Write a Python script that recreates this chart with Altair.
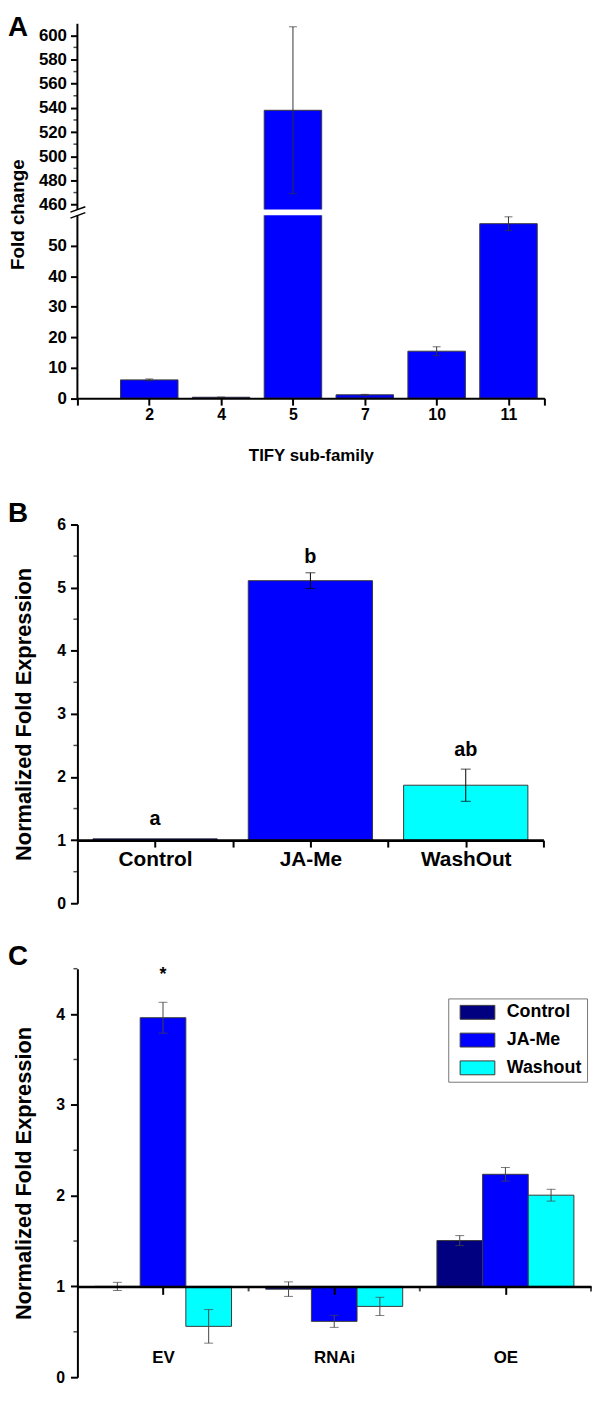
import json
import altair as alt
import pandas as pd

FONT = "Liberation Sans"
BLUE = "#0000ff"
NAVY = "#000080"
CYAN = "#00ffff"
EDGE = "#3a3a3a"
ERRC = "#333333"

# ---------------- Panel A data ----------------
A_FAMILY = ["2", "4", "5", "7", "10", "11"]
A_FOLD = [6.0, 0.3, 538.0, 1.1, 15.4, 57.2]
A_ERR = [0.3, 0.05, 69.0, 0.15, 1.45, 2.25]
A_Y_TICKS = [0, 10, 20, 30, 40, 50, 460, 480, 500, 520, 540, 560, 580, 600]
A_Y_MINOR = [470, 490, 510, 530, 550, 570, 590]
A_SEG_LO = [0, 456]      # broken axis: lower and upper segment starts
A_SEG_HI = [60, 609.5]   # broken axis: lower and upper segment ends

# ---------------- Panel B data ----------------
B_TREAT = ["Control", "JA-Me", "WashOut"]
B_EXPR = [1.02, 5.11, 1.87]
B_ERR = [0.0, 0.125, 0.255]
B_LETTER = ["a", "b", "ab"]
B_LETTER_Y = [1.34, 5.49, 2.42]
B_COLORS = [BLUE, BLUE, CYAN]
B_Y_TICKS = [0, 1, 2, 3, 4, 5, 6]
B_Y_MINOR = [0.5, 1.5, 2.5, 3.5, 4.5, 5.5]

# ---------------- Panel C data ----------------
C_LINE = ["EV", "RNAi", "OE"]
C_SERIES = ["Control", "JA-Me", "Washout"]
C_COLORS = [NAVY, BLUE, CYAN]
C_CONTROL = [1.0, 0.97, 1.505]
C_CONTROL_ERR = [0.045, 0.08, 0.055]
C_JAME = [3.96, 0.615, 2.235]
C_JAME_ERR = [0.17, 0.066, 0.075]
C_WASH = [0.56, 0.78, 2.005]
C_WASH_ERR = [0.185, 0.10, 0.065]
C_STAR = "*"
C_STAR_Y = 4.43
C_Y_TICKS = [0, 1, 2, 3, 4]
C_Y_MINOR = [0.5, 1.5, 2.5, 3.5, 4.5]
C_BOUNDS = [1, 2, 3]
C_BAR = 0.2667

# ======================= Panel A =======================
W_A, H_A = 471, 439
A_RANGE = [377.6, 193.0, 187.3, 0]
a_df = pd.DataFrame({"family": A_FAMILY, "fold": A_FOLD, "err": A_ERR})
a_df["pos"] = list(range(1, len(A_FAMILY) + 1))

xA = alt.Scale(domain=[0, len(A_FAMILY) + 0.5], nice=False, zero=False)
yA = alt.Scale(domain=[A_SEG_LO[0], A_SEG_HI[0], A_SEG_LO[1], A_SEG_HI[1]],
               range=A_RANGE, nice=False, zero=False)

a_xlab = f"datum.value % 1 === 0 && datum.value >= 1 ? {json.dumps(A_FAMILY)}[datum.value - 1] : ''"

A_YAXIS = alt.Axis(
    values=A_Y_TICKS, tickCount=100, domain=False, tickSize=7, tickWidth=2,
    labelFontSize=17, labelPadding=4, labelFlush=False, labelOverlap=False,
    format="d", title="Fold change", titleFontSize=19, titleX=-60, titleY=192,
    titleBaseline="middle")

a_base = alt.Chart(a_df).transform_calculate(
    lo="datum.pos - 0.4", hi="datum.pos + 0.4",
    elo="datum.fold - datum.err", ehi="datum.fold + datum.err")

a_bars = a_base.mark_bar(fill=BLUE, stroke=EDGE, strokeWidth=1).encode(
    x=alt.X("lo:Q", scale=xA, axis=alt.Axis(
        values=[0, 1, 2, 3, 4, 5, 6, 6.5], tickCount=100, labelExpr=a_xlab,
        labelOverlap=False, labelFlush=False, tickSize=7, tickWidth=2, domainWidth=2,
        offset=-(H_A - A_RANGE[0]), labelFontSize=16, labelBaseline="middle",
        labelPadding=10, title="TIFY sub-family", titleFontSize=17,
        titleY=58, titleBaseline="middle", zindex=1)),
    x2="hi:Q",
    y=alt.Y("fold:Q", scale=yA, axis=A_YAXIS),
    y2=alt.datum(0),
)

a_gap = a_base.transform_filter(f"datum.fold > {A_SEG_HI[0]}").transform_calculate(
    glo="datum.pos - 0.45", ghi="datum.pos + 0.45").mark_rect(fill="white").encode(
    x="glo:Q", x2="ghi:Q", y=alt.datum(A_SEG_HI[0]), y2=alt.datum(A_SEG_LO[1]))

a_err = a_base.mark_rule(color=ERRC, strokeWidth=1).encode(x="pos:Q", y=alt.Y("elo:Q", axis=A_YAXIS), y2="ehi:Q")
a_cap1 = a_base.mark_tick(orient="horizontal", size=8, thickness=1, color=ERRC).encode(
    x="pos:Q", y=alt.Y("elo:Q", axis=A_YAXIS))
a_cap2 = a_base.mark_tick(orient="horizontal", size=8, thickness=1, color=ERRC).encode(
    x="pos:Q", y=alt.Y("ehi:Q", axis=A_YAXIS))

a_axis = alt.Chart(pd.DataFrame({"lo": A_SEG_LO, "hi": A_SEG_HI})).mark_rule(
    color="black", strokeWidth=2).encode(x=alt.value(0), y=alt.Y("lo:Q", axis=A_YAXIS), y2="hi:Q")
a_minor = alt.Chart(pd.DataFrame({"v": A_Y_MINOR})).mark_tick(
    orient="horizontal", size=4, thickness=1.5, color="black").encode(
    x=alt.value(-2), y=alt.Y("v:Q", axis=A_YAXIS))
a_brk1 = alt.Chart(pd.DataFrame({"k": [0]})).mark_rule(color="black", strokeWidth=1.5).encode(
    x=alt.value(-7), x2=alt.value(8), y=alt.value(190), y2=alt.value(184.5))
a_brk2 = alt.Chart(pd.DataFrame({"k": [0]})).mark_rule(color="black", strokeWidth=1.5).encode(
    x=alt.value(-7), x2=alt.value(8), y=alt.value(196), y2=alt.value(190.5))
a_letter = alt.Chart(pd.DataFrame({"t": ["A"]})).mark_text(
    font=FONT, fontSize=28, fontWeight="bold", align="left", baseline="top", color="black").encode(
    x=alt.value(-70), y=alt.value(-10), text="t:N")

panel_a = alt.layer(a_bars, a_gap, a_err, a_cap1, a_cap2, a_axis, a_minor,
                    a_brk1, a_brk2, a_letter).properties(width=W_A, height=H_A)

# ======================= Panel B =======================
W_B, H_B = 470, 382
b_df = pd.DataFrame({"treat": B_TREAT, "expr": B_EXPR, "err": B_ERR,
                     "letter": B_LETTER, "ly": B_LETTER_Y, "color": B_COLORS})
b_df["pos"] = [i + 0.5 for i in range(len(B_TREAT))]
xB = alt.Scale(domain=[0, len(B_TREAT)], nice=False, zero=False)
yB = alt.Scale(domain=[0, 6], nice=False)
b_xlab = f"datum.value % 1 === 0.5 ? {json.dumps(B_TREAT)}[floor(datum.value)] : ''"

b_base = alt.Chart(b_df).transform_calculate(
    lo="datum.pos - 0.4", hi="datum.pos + 0.4",
    elo="datum.expr - datum.err", ehi="datum.expr + datum.err")

b_bars = b_base.mark_bar(stroke=EDGE, strokeWidth=1).encode(
    x=alt.X("lo:Q", scale=xB, axis=alt.Axis(
        values=[0.5, 1, 1.5, 2, 2.5, 3], tickCount=100, labelExpr=b_xlab,
        labelOverlap=False, labelFlush=False, tickSize=7, tickWidth=2, domainWidth=3,
        offset=-(H_B / 6), labelFontSize=21, labelBaseline="middle",
        labelPadding=13, title=None, zindex=1)),
    x2="hi:Q",
    y=alt.Y("expr:Q", scale=yB, axis=alt.Axis(
        values=B_Y_TICKS, tickCount=100, format="d", tickSize=7, tickWidth=2,
        domainWidth=2, labelFontSize=16, labelPadding=5, labelFlush=False,
        labelOverlap=False, title="Normalized Fold Expression", titleFontSize=22,
        titleX=-54, titleBaseline="middle")),
    y2=alt.datum(1),
    fill=alt.Color("color:N", scale=None),
)
b_eb = b_base.transform_filter("datum.err > 0")
b_err = b_eb.mark_rule(color="black", strokeWidth=1).encode(x="pos:Q", y="elo:Q", y2="ehi:Q")
b_cap1 = b_eb.mark_tick(orient="horizontal", size=10, thickness=1, color="black").encode(x="pos:Q", y="elo:Q")
b_cap2 = b_eb.mark_tick(orient="horizontal", size=10, thickness=1, color="black").encode(x="pos:Q", y="ehi:Q")
b_text = b_base.mark_text(font=FONT, fontSize=20, fontWeight="bold", baseline="middle",
                          color="black").encode(x="pos:Q", y="ly:Q", text="letter:N")
b_minor = alt.Chart(pd.DataFrame({"v": B_Y_MINOR})).mark_tick(
    orient="horizontal", size=4, thickness=1.5, color="black").encode(x=alt.value(-2), y="v:Q")
b_letter = alt.Chart(pd.DataFrame({"t": ["B"]})).mark_text(
    font=FONT, fontSize=28, fontWeight="bold", align="left", baseline="top", color="black").encode(
    x=alt.value(-70), y=alt.value(-25), text="t:N")

panel_b = alt.layer(b_bars, b_err, b_cap1, b_cap2, b_text, b_minor, b_letter).properties(
    width=W_B, height=H_B)

# ======================= Panel C =======================
W_C, H_C = 518, 412
rows = []
vals = [C_CONTROL, C_JAME, C_WASH]
errs = [C_CONTROL_ERR, C_JAME_ERR, C_WASH_ERR]
for i, line in enumerate(C_LINE):
    for j, s in enumerate(C_SERIES):
        rows.append({"line": line, "series": s, "value": vals[j][i], "err": errs[j][i],
                     "pos": i + 0.5 + (j - 1) * C_BAR})
c_df = pd.DataFrame(rows)
xC = alt.Scale(domain=[0, len(C_LINE)], nice=False, zero=False)
yC = alt.Scale(domain=[0, 4.5], nice=False)
c_xlab = f"{json.dumps(C_LINE)}[floor(datum.value)]"

PATH = "M-0.25,-0.875H4.125V0.875H-0.25Z"

c_base = alt.Chart(c_df).transform_calculate(
    lo=f"datum.pos - {C_BAR / 2}", hi=f"datum.pos + {C_BAR / 2}",
    elo="datum.value - datum.err", ehi="datum.value + datum.err")

c_bars = c_base.mark_bar(stroke=EDGE, strokeWidth=1).encode(
    x=alt.X("lo:Q", scale=xC, axis=alt.Axis(
        values=[0.5, 1.5, 2.5], tickCount=100, labelExpr=c_xlab, labelOverlap=False,
        labelFlush=False, tickSize=8, tickWidth=2, domainWidth=2.5,
        offset=-(H_C / 4.5), labelFontSize=17, labelBaseline="middle",
        labelPadding=64, title=None, zindex=1)),
    x2="hi:Q",
    y=alt.Y("value:Q", scale=yC, axis=alt.Axis(
        values=C_Y_TICKS, tickCount=100, format="d", tickSize=7, tickWidth=2,
        domainWidth=2, labelFontSize=16, labelPadding=6, labelFlush=False,
        labelOverlap=False, title="Normalized Fold Expression", titleFontSize=22,
        titleX=-54, titleBaseline="middle")),
    y2=alt.datum(1),
    fill=alt.Color("series:N", scale=alt.Scale(domain=C_SERIES, range=C_COLORS),
                   legend=alt.Legend(
                       orient="none", legendX=374, legendY=30, title=None,
                       symbolType=PATH, symbolSize=256, symbolStrokeColor=EDGE,
                       symbolStrokeWidth=1, symbolOpacity=1, labelFont=FONT,
                       labelFontSize=18, labelFontWeight="bold", labelColor="black",
                       labelOffset=36, rowPadding=10, padding=5,
                       strokeColor="#777777", fillColor="white")),
)
c_err = c_base.mark_rule(color="#444444", strokeWidth=1).encode(x="pos:Q", y="elo:Q", y2="ehi:Q")
c_cap1 = c_base.mark_tick(orient="horizontal", size=9, thickness=1, color="#444444").encode(x="pos:Q", y="elo:Q")
c_cap2 = c_base.mark_tick(orient="horizontal", size=9, thickness=1, color="#444444").encode(x="pos:Q", y="ehi:Q")
c_star = c_base.transform_filter(
    f"datum.line === '{C_LINE[0]}' && datum.series === '{C_SERIES[1]}'").mark_text(
    font=FONT, fontSize=18, fontWeight="bold", baseline="middle", color="black", text=C_STAR).encode(
    x="pos:Q", y=alt.datum(C_STAR_Y))
c_minor = alt.Chart(pd.DataFrame({"v": C_Y_MINOR})).mark_tick(
    orient="horizontal", size=4, thickness=1.5, color="black").encode(x=alt.value(-2), y="v:Q")
c_bticks = alt.Chart(pd.DataFrame({"b": C_BOUNDS})).mark_tick(
    orient="vertical", size=5, thickness=2, color="black", yOffset=2.5).encode(
    x="b:Q", y=alt.datum(1))
c_letter = alt.Chart(pd.DataFrame({"t": ["C"]})).mark_text(
    font=FONT, fontSize=28, fontWeight="bold", align="left", baseline="top", color="black").encode(
    x=alt.value(-70), y=alt.value(-26), text="t:N")

panel_c = alt.layer(c_bars, c_err, c_cap1, c_cap2, c_star, c_minor, c_bticks,
                    c_letter).properties(width=W_C, height=H_C)

chart = alt.vconcat(panel_a, panel_b, panel_c, spacing=66, bounds="flush").resolve_legend(
    fill="independent").resolve_scale(fill="independent").properties(
    padding={"left": 0, "top": 0, "right": 0, "bottom": 0}
).configure_view(stroke=None).configure_axis(
    grid=False, labelFont=FONT, titleFont=FONT, labelFontWeight="bold",
    titleFontWeight="bold", labelColor="black", titleColor="black",
    domainColor="black", tickColor="black", labelOverlap=False)

chart.save("out.html", embed_options={"renderer": "svg", "actions": False})
